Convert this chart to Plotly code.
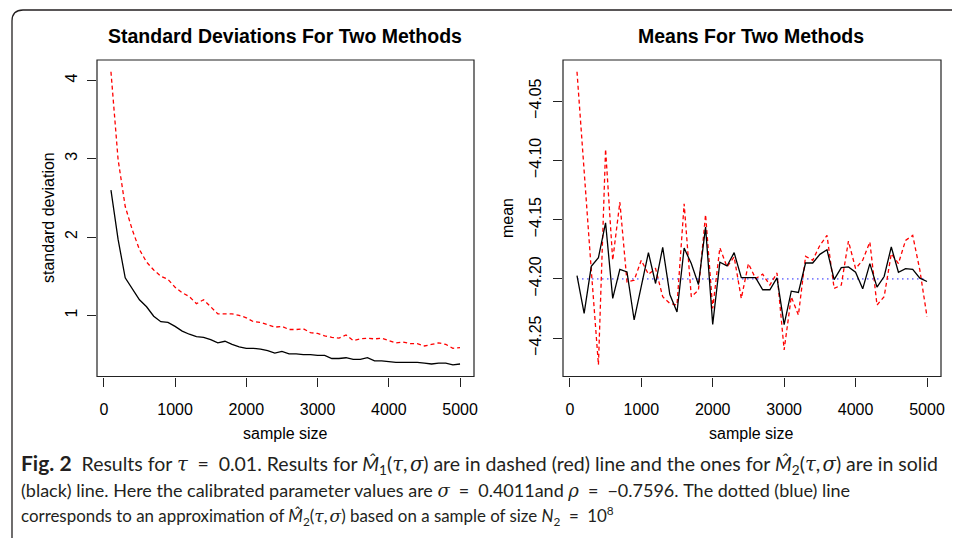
import plotly.graph_objects as go

# ---------------- data ----------------
sample_size = [100, 200, 300, 400, 500, 600, 700, 800, 900, 1000,
               1100, 1200, 1300, 1400, 1500, 1600, 1700, 1800, 1900, 2000,
               2100, 2200, 2300, 2400, 2500, 2600, 2700, 2800, 2900, 3000,
               3100, 3200, 3300, 3400, 3500, 3600, 3700, 3800, 3900, 4000,
               4100, 4200, 4300, 4400, 4500, 4600, 4700, 4800, 4900, 5000]

sd_m1 = [4.11, 2.99, 2.39, 2.09, 1.84, 1.68, 1.58, 1.50, 1.46, 1.36,
         1.29, 1.24, 1.15, 1.20, 1.11, 1.02, 1.02, 1.02, 1.00, 0.97,
         0.92, 0.91, 0.88, 0.85, 0.86, 0.82, 0.82, 0.83, 0.78, 0.77,
         0.74, 0.72, 0.71, 0.75, 0.68, 0.70, 0.71, 0.70, 0.71, 0.68,
         0.65, 0.66, 0.64, 0.64, 0.61, 0.63, 0.65, 0.63, 0.58, 0.59]

sd_m2 = [2.60, 1.97, 1.48, 1.34, 1.20, 1.11, 0.99, 0.92, 0.91, 0.86,
         0.80, 0.76, 0.73, 0.72, 0.69, 0.65, 0.67, 0.63, 0.60, 0.58,
         0.58, 0.57, 0.55, 0.52, 0.54, 0.51, 0.51, 0.50, 0.50, 0.49,
         0.49, 0.45, 0.45, 0.46, 0.44, 0.44, 0.46, 0.42, 0.42, 0.41,
         0.40, 0.40, 0.40, 0.40, 0.39, 0.38, 0.39, 0.39, 0.37, 0.38]

mean_m1 = [-4.0252, -4.1115, -4.1927, -4.2725, -4.0905, -4.1843, -4.1353, -4.2025, -4.2011, -4.1843,
           -4.1961, -4.1913, -4.2151, -4.2207, -4.2221, -4.1367, -4.2151, -4.2095, -4.1457, -4.2249,
           -4.1737, -4.1899, -4.1815, -4.2165, -4.1871, -4.1997, -4.1961, -4.2053, -4.1950, -4.2599,
           -4.2151, -4.2305, -4.1810, -4.1843, -4.1717, -4.1633, -4.2081, -4.2053, -4.1681, -4.1913,
           -4.1843, -4.1689, -4.2221, -4.2151, -4.1787, -4.1871, -4.1675, -4.1633, -4.1927, -4.2319]

mean_m2 = [-4.1972, -4.2291, -4.1894, -4.1821, -4.1527, -4.2165, -4.1919, -4.1941, -4.2347, -4.2056,
           -4.1779, -4.2039, -4.1734, -4.2132, -4.2280, -4.1740, -4.1871, -4.2048, -4.1563, -4.2384,
           -4.1860, -4.1891, -4.1779, -4.1989, -4.1989, -4.1989, -4.2092, -4.2092, -4.1992, -4.2387,
           -4.2104, -4.2115, -4.1866, -4.1866, -4.1793, -4.1754, -4.2006, -4.1905, -4.1899, -4.1944,
           -4.2084, -4.1871, -4.2070, -4.1980, -4.1731, -4.1944, -4.1913, -4.1919, -4.1994, -4.2022]

mean_reference = -4.20

x_ticks = [0, 1000, 2000, 3000, 4000, 5000]
sd_ticks = [1, 2, 3, 4]
mean_ticks = [-4.25, -4.20, -4.15, -4.10, -4.05]

titles = ["Standard Deviations For Two Methods", "Means For Two Methods"]
x_title = "sample size"
y_titles = ["standard deviation", "mean"]


def r_range(vals):
    lo, hi = min(vals), max(vals)
    pad = 0.04 * (hi - lo)
    return [lo - pad, hi + pad]


# ---------------- figure ----------------
# the page body has an 8px margin, so the figure is drawn 8px in from the window edge
OFF = 8
W, H = 960 - OFF, 538 - OFF
fig = go.Figure()

RED = "#FF0000"
line_red = dict(color=RED, width=1.3, dash="4px,3px")
line_black = dict(color="black", width=1.3)

fig.add_trace(go.Scatter(x=sample_size, y=sd_m1, mode="lines", line=line_red,
                         xaxis="x", yaxis="y", showlegend=False))
fig.add_trace(go.Scatter(x=sample_size, y=sd_m2, mode="lines", line=line_black,
                         xaxis="x", yaxis="y", showlegend=False))

fig.add_trace(go.Scatter(x=[sample_size[0], sample_size[-1]], y=[mean_reference, mean_reference],
                         mode="lines", line=dict(color="rgba(60,60,255,0.65)", width=1.6, dash="1.5px,3.5px"),
                         xaxis="x2", yaxis="y2", showlegend=False))
fig.add_trace(go.Scatter(x=sample_size, y=mean_m1, mode="lines", line=line_red,
                         xaxis="x2", yaxis="y2", showlegend=False))
fig.add_trace(go.Scatter(x=sample_size, y=mean_m2, mode="lines", line=line_black,
                         xaxis="x2", yaxis="y2", showlegend=False))

AX_FONT = dict(family="Liberation Sans, Arial, sans-serif", size=16, color="black")


def px_x(p):
    return (p - OFF) / W


def px_y(p):
    return 1 - (p - OFF) / H


y_dom = [px_y(376.5), px_y(60)]

common_x = dict(range=r_range(sample_size), tickvals=x_ticks, ticks="outside", ticklen=9,
                tickwidth=1, tickcolor="#222", showline=False, showgrid=False, zeroline=False,
                tickfont=AX_FONT, automargin=False, ticklabelstandoff=9)
common_y = dict(ticks="outside", ticklen=9, tickwidth=1, tickcolor="#222", showline=False,
                showgrid=False, zeroline=False, tickfont=AX_FONT, tickangle=-90, automargin=False)

fig.update_layout(
    width=W, height=H,
    margin=dict(l=0, r=0, t=0, b=0),
    paper_bgcolor="white", plot_bgcolor="white",
    template="none",
    xaxis=dict(domain=[px_x(97), px_x(474)], anchor="y", **common_x),
    yaxis=dict(domain=y_dom, anchor="x", range=r_range(sd_m1 + sd_m2), tickvals=sd_ticks,
               ticklabelstandoff=4, **common_y),
    xaxis2=dict(domain=[px_x(563), px_x(941)], anchor="y2", **common_x),
    yaxis2=dict(domain=y_dom, anchor="x2", range=r_range(mean_m1 + mean_m2), tickvals=mean_ticks,
                tickformat=".2f", ticklabelstandoff=6, **common_y),
)

# plot boxes
for xr, yr in [("x domain", "y domain"), ("x2 domain", "y2 domain")]:
    fig.add_shape(type="rect", xref=xr, yref=yr, x0=0, x1=1, y0=0, y1=1,
                  line=dict(color="#222", width=1.2), fillcolor="rgba(0,0,0,0)", layer="above")

ann = []
TITLE_FONT = dict(family="Liberation Sans, Arial, sans-serif", size=19.5, color="black")
for t, cx in zip(titles, [285, 751]):
    ann.append(dict(text="<b>%s</b>" % t, x=px_x(cx), y=px_y(36), xref="paper", yref="paper",
                    showarrow=False, xanchor="center", yanchor="middle", font=TITLE_FONT))
for cx in [285, 751]:
    ann.append(dict(text=x_title, x=px_x(cx), y=px_y(433), xref="paper", yref="paper",
                    showarrow=False, xanchor="center", yanchor="middle", font=AX_FONT))
for t, cx in zip(y_titles, [48, 507]):
    ann.append(dict(text=t, x=px_x(cx), y=px_y(218), xref="paper", yref="paper", textangle=-90,
                    showarrow=False, xanchor="center", yanchor="middle", font=AX_FONT))


def m(s):
    # math symbols in a serif italic face
    return "<span style='font-family:DejaVu Serif'><i>%s</i></span>" % s


EQ = "&#8194;=&#8194;"
TS = "&#8201;"
M1 = "<i>M&#770;</i><sub>1</sub>(" + m("τ") + "," + TS + m("σ") + ")"
M2 = "<i>M&#770;</i><sub>2</sub>(" + m("τ") + "," + TS + m("σ") + ")"
cap_lines = [
    "<span style='font-size:21px'><b>Fig. 2</b></span>  Results for " + m("τ") + EQ + "0.01. Results for " + M1 +
    " are in dashed (red) line and the ones for " + M2 + " are in solid",
    "(black) line. Here the calibrated parameter values are " + m("σ") + EQ + "0.4011and " + m("ρ") + EQ +
    "−0.7596. The dotted (blue) line",
    "corresponds to an approximation of " + M2 + " based on a sample of size <i>N</i><sub>2</sub>" + EQ +
    "10<sup>8</sup>",
]
cap_sizes = [19.5, 18, 16.9]
for t, cy, fs in zip(cap_lines, [464, 490, 516], cap_sizes):
    ann.append(dict(text=t, x=px_x(19), y=px_y(cy), xref="paper", yref="paper", showarrow=False,
                    xanchor="left", yanchor="middle",
                    font=dict(family="Lato, sans-serif", size=fs, color="#231f20")))
fig.update_layout(annotations=ann)

# frame with rounded top-left corner
path = "M {:.5f} {:.5f} L {:.5f} {:.5f} Q {:.5f} {:.5f} {:.5f} {:.5f} L {:.5f} {:.5f}".format(
    px_x(960), px_y(10), px_x(23), px_y(10), px_x(12), px_y(10), px_x(12), px_y(21), px_x(12), px_y(538))
fig.add_shape(type="path", path=path, xref="paper", yref="paper",
              line=dict(color="#231f20", width=1.3))

fig.write_html("out.html")
